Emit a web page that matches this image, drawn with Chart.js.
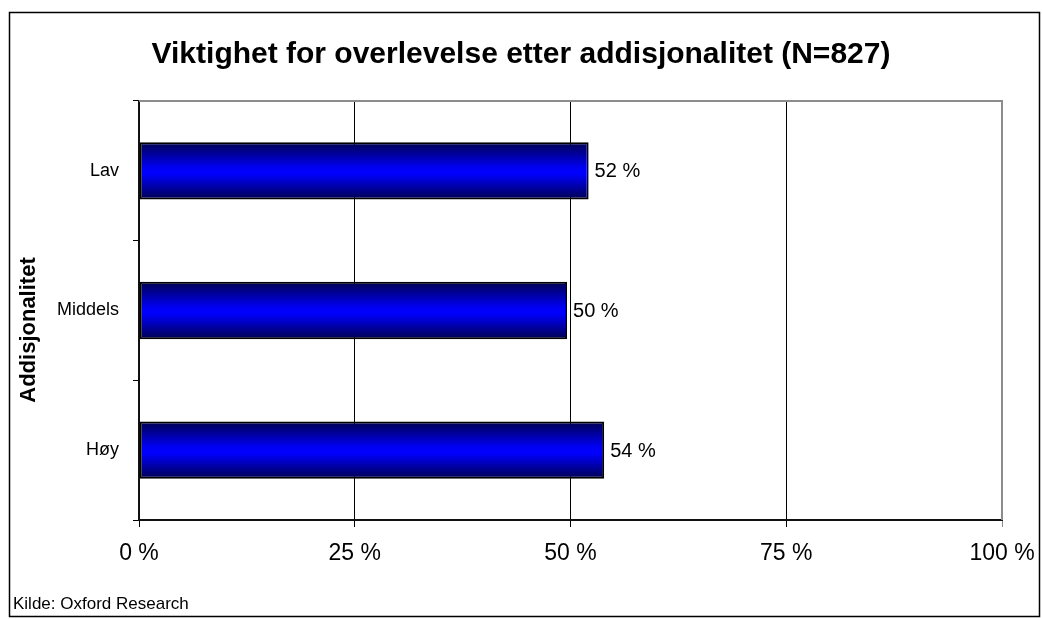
<!DOCTYPE html>
<html>
<head>
<meta charset="utf-8">
<script src="https://cdn.jsdelivr.net/npm/chart.js@4.4.1/dist/chart.umd.min.js"></script>
<style>
  html, body { margin: 0; padding: 0; background: #fff; }
  #wrap { width: 1042px; height: 619px; }
</style>
</head>
<body>
<div id="wrap"><canvas id="chart" width="1042" height="619"></canvas></div>
<script>
// data
const categories = ['Lav', 'Middels', 'Høy'];
const values = [52.1, 49.6, 53.9];
const valueLabels = ['52 %', '50 %', '54 %'];
const xTicks = [0, 25, 50, 75, 100];

const titleText = 'Viktighet for overlevelse etter addisjonalitet (N=827)';
const yTitleText = 'Addisjonalitet';
const sourceText = 'Kilde: Oxford Research';

const FONT = '"Liberation Sans", Arial, sans-serif';
const BAR_PCT = 0.41;

// vertical gradient for each bar, dark edges and bright blue middle
function barFill(context) {
  const chart = context.chart;
  const ys = chart.scales.y;
  if (!ys || !chart.chartArea) return '#0000ff';
  const cy = ys.getPixelForValue(context.dataIndex);
  const half = (ys.height / categories.length) * BAR_PCT / 2;
  const g = chart.ctx.createLinearGradient(0, cy - half, 0, cy + half);
  g.addColorStop(0, '#000050');
  g.addColorStop(0.45, '#0000f6');
  g.addColorStop(0.55, '#0000ff');
  g.addColorStop(1, '#000050');
  return g;
}

const decor = {
  id: 'decor',
  afterDraw(chart) {
    const ctx = chart.ctx;
    const a = chart.chartArea;
    ctx.save();

    // grey plot border top and right
    ctx.strokeStyle = '#8c8c8c';
    ctx.lineWidth = 2;
    ctx.beginPath();
    ctx.moveTo(a.left, a.top);
    ctx.lineTo(a.right, a.top);
    ctx.lineTo(a.right, a.bottom);
    ctx.stroke();

    // value labels next to bars
    const meta = chart.getDatasetMeta(0);
    ctx.fillStyle = '#000';
    ctx.font = '20px ' + FONT;
    ctx.textAlign = 'left';
    ctx.textBaseline = 'middle';
    meta.data.forEach((bar, i) => {
      ctx.fillText(valueLabels[i], bar.x + 6, bar.y + 1);
    });

    // y axis title
    ctx.save();
    ctx.translate(29, 330);
    ctx.rotate(-Math.PI / 2);
    ctx.font = 'bold 22px ' + FONT;
    ctx.textAlign = 'center';
    ctx.textBaseline = 'middle';
    ctx.fillText(yTitleText, 0, 0);
    ctx.restore();

    // source
    ctx.font = '17px ' + FONT;
    ctx.textAlign = 'left';
    ctx.textBaseline = 'alphabetic';
    ctx.fillText(sourceText, 13, 609);

    // outer frame
    ctx.strokeStyle = '#000';
    ctx.lineWidth = 1.5;
    ctx.strokeRect(9.5, 12.5, 1030, 604);

    ctx.restore();
  }
};

new Chart(document.getElementById('chart'), {
  type: 'bar',
  data: {
    labels: categories,
    datasets: [{
      data: values,
      backgroundColor: barFill,
      borderColor: '#000',
      borderWidth: 2,
      borderSkipped: false,
      barPercentage: BAR_PCT,
      categoryPercentage: 1
    }]
  },
  options: {
    indexAxis: 'y',
    responsive: false,
    animation: false,
    layout: { padding: 0 },
    plugins: {
      legend: { display: false },
      tooltip: { enabled: false },
      title: {
        display: true,
        text: titleText,
        color: '#000',
        font: { family: FONT, size: 30, weight: 'bold' },
        padding: { top: 37, bottom: 28 }
      }
    },
    scales: {
      x: {
        type: 'linear',
        min: 0,
        max: 100,
        afterBuildTicks: s => { s.ticks = xTicks.map(v => ({ value: v })); },
        afterFit: s => { s.height = 99; s.paddingLeft = 0; s.paddingRight = 40; },
        ticks: {
          color: '#000',
          font: { family: FONT, size: 23 },
          padding: 13,
          maxRotation: 0,
          callback: v => v + ' %'
        },
        grid: {
          color: c => (c.tick && c.tick.value === 100 ? '#8c8c8c' : '#000'),
          lineWidth: 1,
          tickLength: 7,
          drawTicks: true
        },
        border: { color: '#111', width: 2 }
      },
      y: {
        type: 'category',
        afterFit: s => { s.width = 139; s.paddingTop = 0; s.paddingBottom = 0; },
        ticks: {
          color: '#000',
          font: { family: FONT, size: 18 },
          padding: 14
        },
        grid: {
          offset: true,
          drawOnChartArea: false,
          drawTicks: true,
          tickLength: 6,
          color: '#000'
        },
        border: { color: '#111', width: 2 }
      }
    }
  },
  plugins: [decor]
});
</script>
</body>
</html>
